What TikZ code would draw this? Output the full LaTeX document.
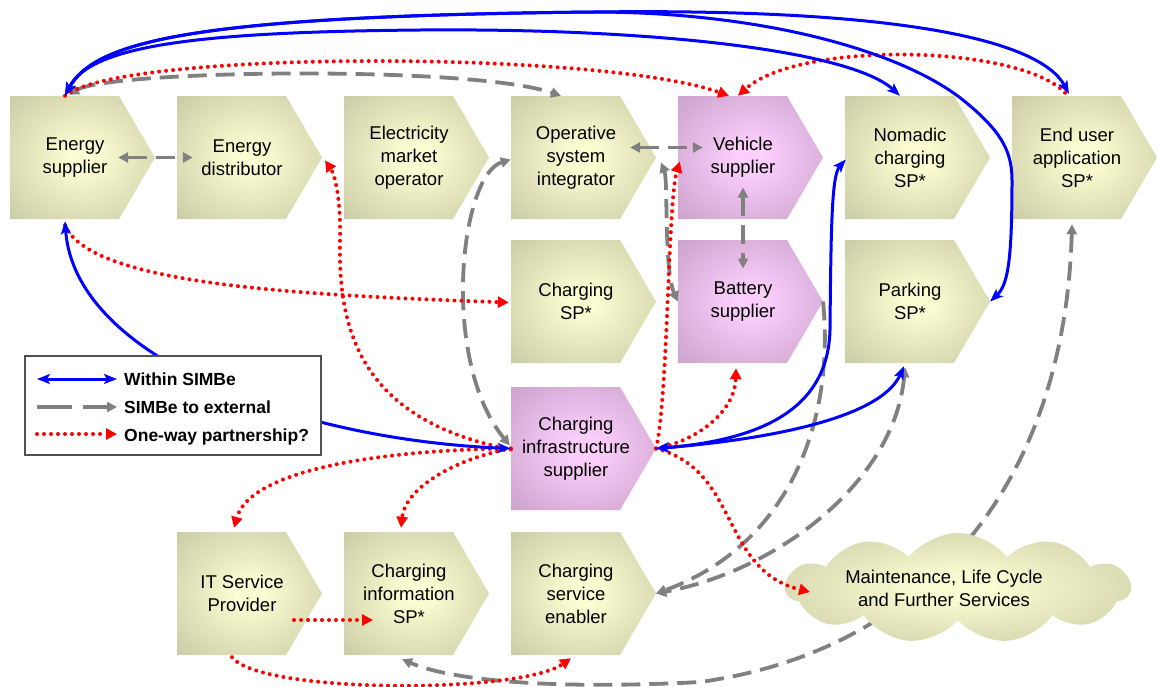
\documentclass[tikz,border=0pt]{standalone}
\usepackage{fontspec}
\setmainfont{Liberation Sans}
\usetikzlibrary{arrows.meta,calc,shapes.symbols}

\definecolor{olivein}{RGB}{252,252,210}
\definecolor{oliveout}{RGB}{195,195,158}
\definecolor{plumin}{RGB}{252,206,252}
\definecolor{plumout}{RGB}{196,156,196}
\definecolor{linkblue}{RGB}{0,0,255}
\definecolor{linkgray}{RGB}{128,128,128}
\definecolor{linkred}{RGB}{255,0,0}
\definecolor{legendedge}{RGB}{80,80,80}

% soft glow from the centre of each shape towards its rim
\pgfdeclareradialshading{olivefill}{\pgfpoint{0bp}{0bp}}{color(0bp)=(olivein); color(5bp)=(olivein); color(40bp)=(oliveout); color(100bp)=(oliveout)}
\pgfdeclareradialshading{plumfill}{\pgfpoint{0bp}{0bp}}{color(0bp)=(plumin); color(5bp)=(plumin); color(40bp)=(plumout); color(100bp)=(plumout)}

\tikzset{
  bluehead/.tip={Stealth[length=13pt,width=10pt,inset=3pt]},
  grayhead/.tip={Triangle[length=10pt,width=10pt]},
  redhead/.tip={Triangle[length=11pt,width=11pt]},
  lbl/.style={inner sep=0pt, align=center, minimum width=130pt, minimum height=123pt,
    font=\fontsize{18.5}{23}\selectfont},
  keytext/.style={inner sep=0pt, font=\fontsize{17.5}{21}\selectfont\bfseries},
  within/.style={draw=linkblue, line width=3pt, bluehead-bluehead},
  extboth/.style={draw=linkgray, line width=3.8pt, dash pattern=on 19pt off 9pt, grayhead-grayhead},
  extone/.style={draw=linkgray, line width=3.8pt, dash pattern=on 19pt off 9pt, -grayhead},
  oneway/.style={draw=linkred, line width=4pt, line cap=round, dash pattern=on 0pt off 7pt, -redhead},
}

% chevron: name, left edge, top edge, shading, label
\newcommand\chev[5]{%
  \shade[shading=#4] (#2,#3) -- ++(109,0) -- ++(36,61.5) -- ++(-36,61.5) -- ++(-109,0) -- cycle;
  \node[lbl] (#1) at ({#2+65},{#3+61.5}) {#5};
  \coordinate (#1-tip) at ({#2+145},{#3+61.5});
}

\begin{document}
\begin{tikzpicture}[x=1pt,y=-1pt]
\useasboundingbox (0,0) rectangle (1157,686);

% value chain actors
\chev{es}{10}{96}{olivefill}{Energy\\supplier}
\chev{ed}{177}{96}{olivefill}{Energy\\distributor}
\chev{emo}{344}{96}{olivefill}{Electricity\\market\\operator}
\chev{osi}{511}{96}{olivefill}{Operative\\system\\integrator}
\chev{vs}{678}{96}{plumfill}{Vehicle\\supplier}
\chev{ncs}{845}{96}{olivefill}{Nomadic\\charging\\SP*}
\chev{eua}{1012}{96}{olivefill}{End user\\application\\SP*}
\chev{csp}{511}{240}{olivefill}{Charging\\SP*}
\chev{bs}{678}{240}{plumfill}{Battery\\supplier}
\chev{psp}{845}{240}{olivefill}{Parking\\SP*}
\chev{cis}{511}{387}{plumfill}{Charging\\infrastructure\\supplier}
\chev{its}{177}{532}{olivefill}{IT Service\\Provider}
\chev{cisp}{344}{532}{olivefill}{Charging\\information\\SP*}
\chev{cse}{511}{532}{olivefill}{Charging\\service\\enabler}

% SIMBe to external links
\draw[extboth] ($(es.east)+(-22,0)$) -- ($(ed.west)+(16,0)$);
\draw[extboth] ($(osi.east)+(-11,-10)$) -- ($(vs.west)+(25,-10)$);
\draw[extboth] ($(vs.center)+(0,30)$) -- ($(bs.center)+(0,-33)$);
\draw[extboth] ($(es.north)+(-6,-1)$) .. controls (110,70) and (470,65) .. ($(osi.north)+(-15,0)$);
\draw[extboth] ($(osi.west)+(0,2)$) .. controls (460,175) and (440,360) .. ($(cis.west)+(-1,-3)$);
\draw[extboth] ($(osi-tip)+(5,5)$) .. controls (668,180) and (664,270) .. (bs.west);
\draw[extone] (bs-tip) .. controls (835,420) and (790,545) .. (cse-tip);
\draw[extboth] ($(psp.south)+(-5,4)$) .. controls (895,480) and (780,570) .. (cse-tip);
\draw[extboth] ($(eua.south)+(-5,5)$) .. controls (1065,480) and (930,650) .. (700,682)
  .. controls (550,690) and (450,680) .. ($(cisp.south)+(-7,4)$);

% further services
\node[cloud, cloud puffs=11, cloud puff arc=105, cloud ignores aspect, shade, shading=olivefill,
  minimum width=344pt, minimum height=110pt, inner sep=0pt] (mlc) at (958,588) {};
\node[inner sep=0pt, align=center, font=\fontsize{18.5}{23}\selectfont] (mlct) at (944,588)
  {Maintenance, Life Cycle\\and Further Services};

% one-way partnerships
\draw[oneway] ($(es.north)+(-10,0)$) .. controls (120,50) and (600,50) .. ($(vs.north)+(-14,0)$);
\draw[oneway] ($(eua.north)+(-12,-3)$) .. controls (1020,45) and (800,40) .. ($(vs.north)+(-5,0)$);
\draw[oneway] ($(es.south)+(-10,6)$) .. controls (90,285) and (300,295) .. ($(csp.west)+(-2,1)$);
\draw[oneway] ($(cis.west)+(0,1)$) .. controls (360,420) and (338,330) .. (340,240)
  .. controls (341,200) and (335,175) .. ($(ed-tip)+(3,3)$);
\draw[oneway] (cis-tip) .. controls (668,400) and (668,200) .. ($(vs.west)+(2,4)$);
\draw[oneway] (cis-tip) .. controls (700,440) and (735,410) .. ($(bs.south)+(-7,5)$);
\draw[oneway] (cis-tip) .. controls (740,470) and (720,570) .. ($(mlc.center)+(-148,4)$);
\draw[oneway] (cis.west) .. controls (380,450) and (250,470) .. ($(its.north)+(-8,-4)$);
\draw[oneway] (cis.west) .. controls (450,460) and (405,490) .. ($(cisp.north)+(-8,-4)$);
\draw[oneway] ($(its.center)+(52,26.5)$) -- ($(cisp.center)+(-36,26.5)$);
\draw[oneway] ($(its.south)+(-10,2)$) .. controls (260,694) and (520,694) .. ($(cse.south)+(-5,3)$);

% links within SIMBe
\draw[within] ($(es.north)+(-10,0)$) .. controls (90,45) and (200,32) .. (420,30)
  .. controls (650,28) and (850,50) .. ($(ncs.north)+(-10,0)$);
\draw[within] ($(es.north)+(-10,0)$) .. controls (95,40) and (200,16) .. (593,12)
  .. controls (900,8) and (1040,40) .. ($(eua.north)+(-8,-2)$);
\draw[within] ($(es.north)+(-10,0)$) .. controls (95,40) and (200,16) .. (593,12)
  .. controls (760,12) and (900,50) .. (963,100) .. controls (1000,130) and (1012,150) .. (1012,180)
  .. controls (1012,260) and (1008,285) .. (psp-tip);
\draw[within] ($(es.south)+(-10,2)$) .. controls (75,360) and (300,440) .. (cis.west);
\draw[within] (cis-tip) .. controls (760,440) and (828,410) .. (830,330)
  .. controls (831,220) and (832,175) .. ($(ncs.west)+(1,2)$);
\draw[within] (cis-tip) .. controls (760,440) and (880,420) .. ($(psp.south)+(-6,3)$);

% legend
\node[draw=legendedge, line width=1.2pt, fill=white, minimum width=296pt, minimum height=99pt,
  inner sep=0pt] (legend) at (173,405.5) {};
\coordinate (k1a) at (37,379);  \coordinate (k1b) at (117,379);
\coordinate (k2a) at (37,407);  \coordinate (k2b) at (117,407);
\coordinate (k3a) at (37,434);  \coordinate (k3b) at (117,434);
\draw[within] (k1a) -- (k1b);
\draw[extone, dash pattern=on 35pt off 11pt] (k2a) -- (k2b);
\draw[oneway] (k3a) -- (k3b);
\node[keytext, anchor=base west] (k1t) at (124,385) {Within SIMBe};
\node[keytext, anchor=base west] (k2t) at (124,413) {SIMBe to external};
\node[keytext, anchor=base west] (k3t) at (124,441) {One-way partnership?};
\end{tikzpicture}
\end{document}
